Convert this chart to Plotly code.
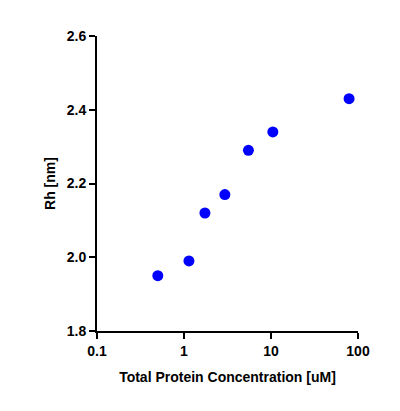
import plotly.graph_objects as go

# Total protein concentration (uM) vs hydrodynamic radius (nm)
conc = [0.5, 1.14, 1.74, 2.95, 5.5, 10.5, 79]
rh = [1.95, 1.99, 2.12, 2.17, 2.29, 2.34, 2.43]

fig = go.Figure(go.Scatter(
    x=conc, y=rh, mode="markers",
    marker=dict(color="#0000FF", size=11),
))

font = dict(family="Liberation Sans, Arial", size=13, color="black")
axis = dict(showline=True, linecolor="black", linewidth=2, ticks="outside",
            tickwidth=2, ticklen=6, tickcolor="black", showgrid=False,
            zeroline=False, tickfont=dict(family="Liberation Sans, Arial", size=14, color="black"))

fig.update_xaxes(type="log", range=[-1, 2], tickvals=[0.1, 1, 10, 100],
                 ticktext=["<b>0.1</b>", "<b>1</b>", "<b>10</b>", "<b>100</b>"],
                 title=dict(text="<b>Total Protein Concentration [uM]</b>", font=dict(size=14), standoff=14), **axis)
fig.update_yaxes(range=[1.8, 2.6], tickvals=[1.8, 2.0, 2.2, 2.4, 2.6],
                 ticktext=["<b>1.8</b>", "<b>2.0</b>", "<b>2.2</b>", "<b>2.4</b>", "<b>2.6</b>"],
                 title=dict(text="<b>Rh [nm]</b>", font=dict(size=14), standoff=8), **axis)

fig.update_layout(width=400, height=411, margin=dict(l=89, r=50, t=28, b=88),
                  plot_bgcolor="white", paper_bgcolor="white", font=font,
                  showlegend=False)
fig.write_html("out.html")
